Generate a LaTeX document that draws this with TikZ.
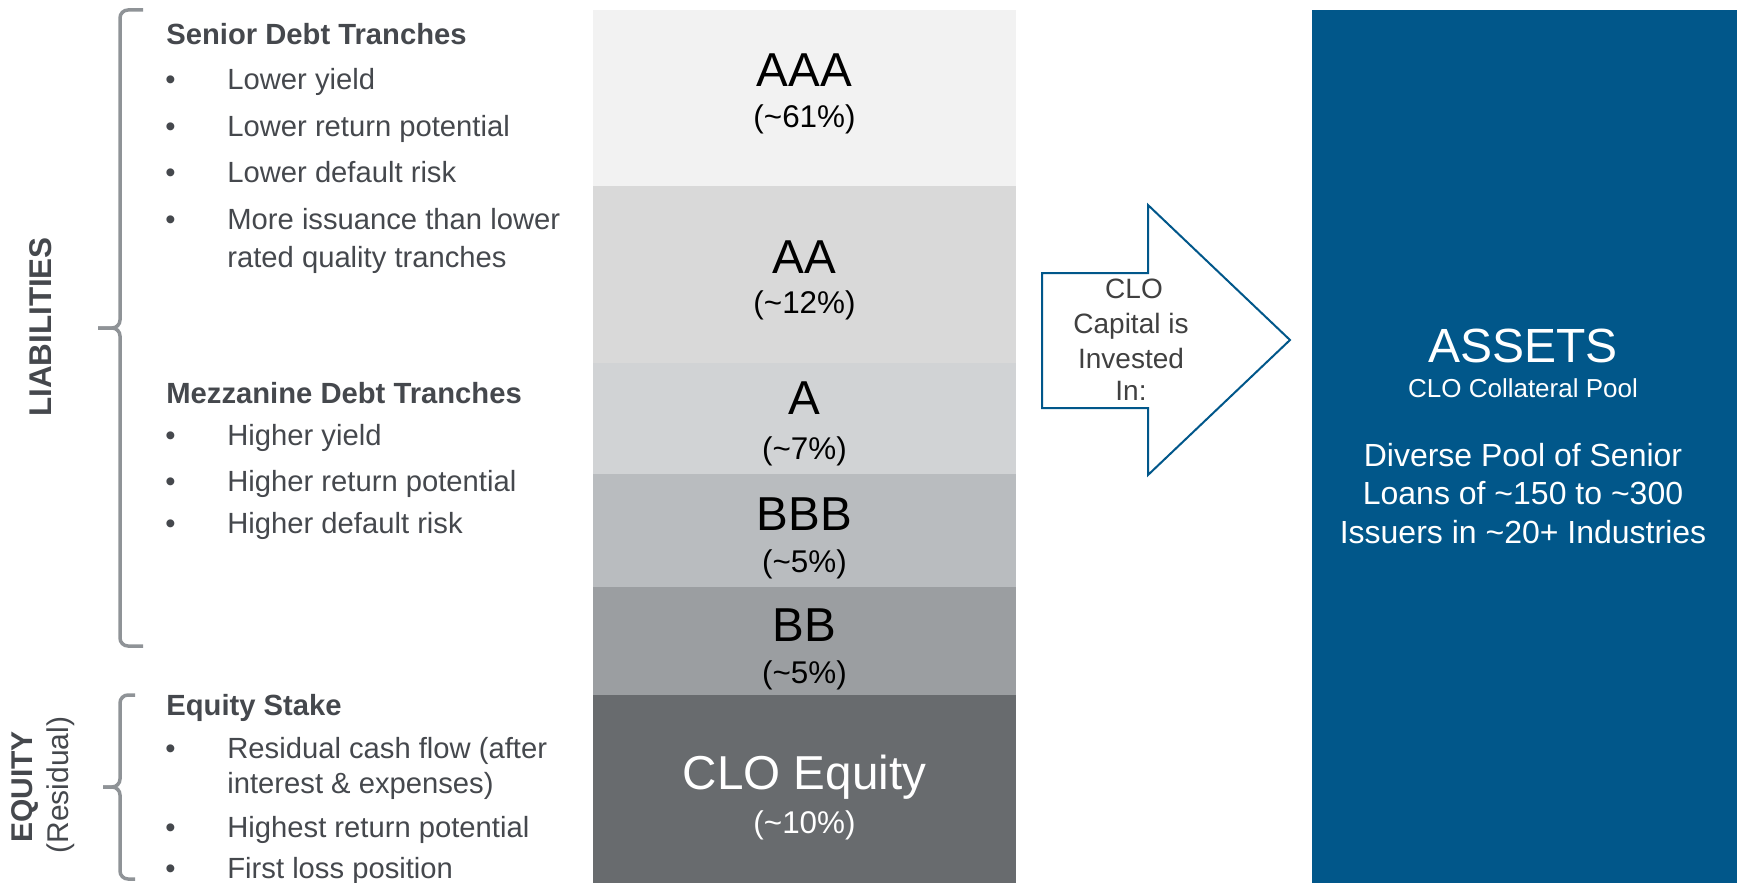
\documentclass[tikz,border=0pt]{standalone}
\usepackage{fontspec}
\setmainfont{Liberation Sans}
\definecolor{textgray}{HTML}{45484D}
\definecolor{brkgray}{HTML}{8F9397}
\definecolor{cAAA}{HTML}{F2F2F2}
\definecolor{cAA}{HTML}{D9D9D9}
\definecolor{cA}{HTML}{D1D3D5}
\definecolor{cBBB}{HTML}{B9BCBF}
\definecolor{cBB}{HTML}{9B9EA1}
\definecolor{cEQ}{HTML}{686B6E}
\definecolor{assetblue}{HTML}{01578A}
\definecolor{arrowtext}{HTML}{404040}
\begin{document}
\begin{tikzpicture}[x=0.5pt,y=-0.5pt,
  lt/.style={anchor=base west, inner sep=0pt, text=textgray, font=\fontsize{14.6}{17}\selectfont},
  hd/.style={lt, font=\fontsize{14.6}{17}\selectfont\bfseries},
  bul/.style={lt},
  brk/.style={draw=brkgray, line width=1.75pt, rounded corners=4pt},
  big/.style={anchor=base, inner sep=0pt, font=\fontsize{23.8}{28}\selectfont},
  pct/.style={anchor=base, inner sep=0pt, font=\fontsize{15.7}{19}\selectfont},
  arrtxt/.style={anchor=base, inner sep=0pt, text=arrowtext, font=\fontsize{14}{17}\selectfont},
  asw/.style={anchor=base, inner sep=0pt, text=white},
  sidelbl/.style={rotate=90, inner sep=0pt, text=textgray}
]
\useasboundingbox (0,0) rectangle (1737,883);

% tranche stack
\fill[cAAA] (593,10) rectangle (1016,186);
\fill[cAA]  (593,186) rectangle (1016,363);
\fill[cA]   (593,363) rectangle (1016,474);
\fill[cBBB] (593,474) rectangle (1016,587);
\fill[cBB]  (593,587) rectangle (1016,695);
\fill[cEQ]  (593,695) rectangle (1016,883);

\node[big] (taaa) at (804.5,87) {AAA};
\node[pct] (paaa) at (804.5,128) {(\textasciitilde61\%)};
\node[big] (taa) at (804.5,273) {AA};
\node[pct] (paa) at (804.5,314) {(\textasciitilde12\%)};
\node[big] (ta) at (804.5,414) {A};
\node[pct] (pa) at (804.5,459) {(\textasciitilde7\%)};
\node[big] (tbbb) at (804.5,530) {BBB};
\node[pct] (pbbb) at (804.5,572) {(\textasciitilde5\%)};
\node[big] (tbb) at (804.5,641) {BB};
\node[pct] (pbb) at (804.5,683) {(\textasciitilde5\%)};
\node[big, text=white] (teq) at (804.5,789) {CLO Equity};
\node[pct, text=white] (peq) at (804.5,833) {(\textasciitilde10\%)};

% brackets
\draw[brk] (143,10) -| (120,328) -- (98,328);
\draw[brk] (98,328) -- (120,328) |- (143,646);
\draw[brk] (135,695) -| (120,787) -- (103,787);
\draw[brk] (103,787) -- (120,787) |- (135,879);

% side labels
\node[sidelbl, font=\fontsize{15.7}{19}\selectfont\bfseries] (liab) at (41,327) {LIABILITIES};
\node[sidelbl, font=\fontsize{15}{18}\selectfont\bfseries] (equ) at (25,787) {EQUITY};
\node[sidelbl, font=\fontsize{15}{18}\selectfont] (resid) at (61,785) {(Residual)};

% senior
\node[hd] (h1) at (166,45) {Senior Debt Tranches};
\node[bul] (b11) at (165,90) {•};
\node[lt] (t11) at (227,90) {Lower yield};
\node[bul] (b12) at (165,137) {•};
\node[lt] (t12) at (227,137) {Lower return potential};
\node[bul] (b13) at (165,183) {•};
\node[lt] (t13) at (227,183) {Lower default risk};
\node[bul] (b14) at (165,229) {•};
\node[lt] (t14) at (227,229) {More issuance than lower};
\node[lt] (t14b) at (227,268) {rated quality tranches};

% mezzanine
\node[hd] (h2) at (166,403) {Mezzanine Debt Tranches};
\node[bul] (b21) at (165,445) {•};
\node[lt] (t21) at (227,445) {Higher yield};
\node[bul] (b22) at (165,491) {•};
\node[lt] (t22) at (227,491) {Higher return potential};
\node[bul] (b23) at (165,533) {•};
\node[lt] (t23) at (227,533) {Higher default risk};

% equity
\node[hd] (h3) at (166,715) {Equity Stake};
\node[bul] (b31) at (165,758) {•};
\node[lt] (t31) at (227,758) {Residual cash flow (after};
\node[lt] (t31b) at (227,793) {interest \& expenses)};
\node[bul] (b32) at (165,837) {•};
\node[lt] (t32) at (227,837) {Highest return potential};
\node[bul] (b33) at (165,878) {•};
\node[lt] (t33) at (227,878) {First loss position};

% arrow
\draw[draw=assetblue, fill=white, line width=1pt, line join=miter]
  (1042,273) -- (1148,273) -- (1148,205) -- (1290,340) -- (1148,475) -- (1148,408) -- (1042,408) -- cycle;
\node[arrtxt] (a1) at (1134,299) {CLO};
\node[arrtxt] (a2) at (1131,333) {Capital is};
\node[arrtxt] (a3) at (1131,368) {Invested};
\node[arrtxt] (a4) at (1131,400) {In:};

% assets box
\fill[assetblue] (1312,10) rectangle (1737,883);
\node[asw, font=\fontsize{24}{28}\selectfont] (as1) at (1523,362) {ASSETS};
\node[asw, font=\fontsize{13}{16}\selectfont] (as2) at (1523,397) {CLO Collateral Pool};
\node[asw, font=\fontsize{16}{19}\selectfont] (as3) at (1523,466) {Diverse Pool of Senior};
\node[asw, font=\fontsize{16}{19}\selectfont] (as4) at (1523,504) {Loans of \textasciitilde150 to \textasciitilde300};
\node[asw, font=\fontsize{16}{19}\selectfont] (as5) at (1523,543) {Issuers in \textasciitilde20+ Industries};
\end{tikzpicture}
\end{document}
